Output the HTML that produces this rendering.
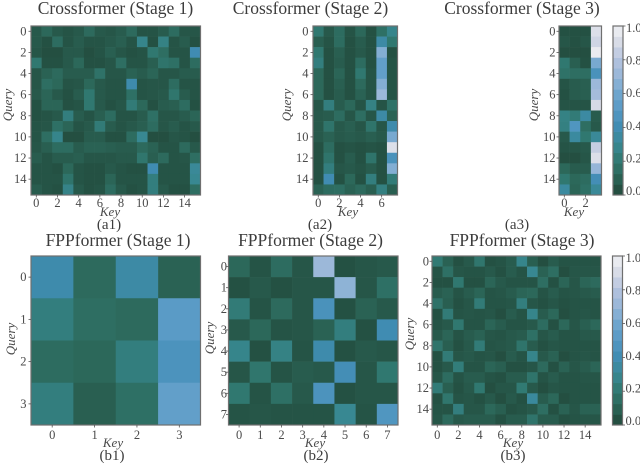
<!DOCTYPE html>
<html lang="en">
<head>
<meta charset="utf-8">
<title>Crossformer and FPPformer attention heatmaps</title>
<style>
html,body{margin:0;padding:0;background:#fff;width:640px;height:466px;overflow:hidden}
svg{display:block;font-family:"Liberation Serif",serif;filter:blur(0.3px)}
</style>
</head>
<body>
<svg id="fig" width="640" height="466" viewBox="0 0 640 466" xmlns="http://www.w3.org/2000/svg"></svg>
<script>
const a1Values = [
[7,12,7,5,7,13,7,6,8,13,5,5,8,14,6,6],
[7,4,14,5,8,5,5,7,9,5,28,4,26,5,8,4],
[6,3,3,7,7,3,5,9,6,4,5,20,15,5,5,40],
[20,4,4,7,12,4,4,6,15,5,5,9,18,16,5,14],
[6,10,13,8,8,8,17,6,6,10,8,11,6,6,8,8],
[6,15,12,5,6,12,7,5,5,38,5,6,6,14,5,5],
[7,11,7,4,8,20,7,5,5,16,5,6,7,19,8,5],
[4,11,11,4,5,20,7,4,6,22,12,4,8,9,14,4],
[4,5,7,24,8,5,9,14,5,5,8,16,6,6,8,11],
[5,6,16,11,5,7,22,8,5,7,9,14,6,8,5,7],
[5,15,28,3,3,8,8,4,4,14,30,3,3,6,5,3],
[6,9,14,14,8,10,10,9,8,8,13,10,5,5,13,7],
[8,5,8,8,9,6,6,6,7,7,19,9,13,5,6,15],
[5,5,4,12,5,4,4,7,5,4,4,40,5,5,5,32],
[5,5,5,18,5,4,4,11,5,5,5,24,5,5,5,30],
[8,5,4,27,7,4,5,14,7,4,5,24,7,4,4,15]];
const a2Values = [
[20,7,14,5,12,4,16,28],
[9,5,14,4,8,4,36,20],
[20,4,9,4,7,4,65,4],
[24,4,8,4,14,4,55,5],
[12,4,11,4,20,5,55,5],
[12,4,9,4,13,5,65,5],
[12,4,8,4,10,5,72,5],
[6,24,8,12,5,26,5,17],
[7,8,14,6,15,6,36,10],
[7,18,7,9,6,18,6,38],
[7,10,7,8,7,9,7,62],
[4,14,4,5,4,5,4,92],
[4,18,4,8,4,18,4,45],
[4,24,6,7,5,8,4,65],
[4,40,4,12,4,24,4,22],
[10,14,15,10,13,9,25,9]];
const a3Values = [
[4,4,4,92],[6,4,6,88],[3,3,3,97],[20,9,4,62],
[17,15,15,45],[5,8,9,72],[4,8,9,75],[5,5,5,90],
[26,22,35,8],[25,48,15,7],[7,34,20,32],[5,6,7,85],
[3,3,6,92],[12,8,8,70],[20,12,14,42],[34,11,16,32]];
const b1Values = [
[38,13,36,10],
[24,15,13,52],
[14,12,24,46],
[24,9,16,55]];
const b2Values = [
[12,5,14,6,72,4,6,7],
[4,7,4,6,6,68,6,16],
[22,5,13,6,45,4,10,7],
[7,12,5,6,10,24,4,40],
[28,4,26,5,38,4,7,6],
[6,19,5,8,7,42,6,20],
[20,5,16,7,46,4,6,6],
[5,6,5,5,5,30,5,48]];
const b3Values = [
[21,10,4,7,19,4,5,8,28,9,3,8,5,5,5,5],
[5,16,6,5,5,7,4,8,5,30,10,15,3,6,6,6],
[4,4,20,4,4,11,7,5,5,5,15,4,11,6,11,13],
[8,10,5,8,11,5,6,8,11,12,5,8,5,6,7,8],
[17,9,4,6,22,5,5,6,24,6,4,6,4,5,5,5],
[4,22,5,6,5,6,3,8,5,28,8,12,3,5,6,5],
[5,7,20,5,5,11,8,5,5,7,14,4,12,6,9,12],
[7,11,5,8,10,6,5,7,8,16,6,8,5,5,7,7],
[18,9,4,7,22,5,6,7,18,8,4,6,5,5,5,5],
[4,22,6,7,5,6,3,8,5,28,7,10,3,5,6,5],
[4,7,23,5,5,11,9,4,4,6,13,4,10,6,8,11],
[6,14,5,8,8,5,4,8,8,18,5,8,5,5,6,6],
[22,9,4,7,20,3,6,6,21,7,3,6,5,5,5,5],
[4,19,5,6,4,7,3,7,4,33,8,12,3,5,5,5],
[5,5,24,6,6,12,9,4,5,7,15,4,10,6,10,10],
[6,13,7,8,8,8,4,8,8,18,8,8,4,5,6,6]];
const colorbarTicks = [0,0.2,0.4,0.6,0.8,1];
const tickLabels16 = [0,2,4,6,8,10,12,14];
const tickLabels8 = [0,1,2,3,4,5,6,7];
const tickLabelsEven8 = [0,2,4,6];
const tickLabelsEven4 = [0,2];
const tickLabels4 = [0,1,2,3];

const svg = document.getElementById('fig');
const NS = 'http://www.w3.org/2000/svg';
const INK = '#4a4a4a';
const rampStops = [
  [0,33,72,58],[0.06,38,86,72],[0.12,44,104,90],[0.2,48,120,112],[0.3,56,136,146],
  [0.4,64,140,178],[0.5,84,152,196],[0.6,112,166,206],[0.7,150,182,216],
  [0.8,180,194,222],[0.9,214,218,230],[1,242,242,244]];
function colorOf(v){
  const t = Math.max(0,Math.min(1,v));
  for(let i=1;i<rampStops.length;i++){
    const p = rampStops[i-1], q = rampStops[i];
    if(t<=q[0]){
      const f = (t-p[0])/(q[0]-p[0]);
      return 'rgb('+[1,2,3].map(k=>Math.round(p[k]+(q[k]-p[k])*f)).join(',')+')';
    }
  }
  return 'rgb(242,242,244)';
}
function mk(tag, attrs, parent, txt){
  const el = document.createElementNS(NS, tag);
  for(const k in attrs){ el.setAttribute(k, attrs[k]); }
  if(txt !== undefined){ el.textContent = txt; }
  (parent || svg).appendChild(el);
  return el;
}
function label(parent, name, txt, attrs){
  const el = mk('text', attrs, parent, txt);
  
  
  return el;
}
function heatmap(id, cfg){
  const g = mk('g', {});
  
  
  const data = cfg.values;
  const rows = data.length, cols = data[0].length;
  const xs = i => cfg.x + i*cfg.w/cols;
  const ys = j => cfg.y + j*cfg.h/rows;
  data.forEach((row,j)=>row.forEach((val,i)=>{
    const cell = mk('rect', {x:xs(i), y:ys(j), width:cfg.w/cols+0.3, height:cfg.h/rows+0.3, fill:colorOf(val/100)}, g);
    
    
  }));
  const frame = mk('rect', {x:cfg.x, y:cfg.y, width:cfg.w, height:cfg.h, fill:'none', stroke:'#6f6f6f', 'stroke-width':1.2}, g);
  
  
  cfg.xticks.forEach(t=>{
    const px = xs(t+0.5);
    mk('line', {x1:px, x2:px, y1:cfg.y+cfg.h, y2:cfg.y+cfg.h+2.5, stroke:'#555', 'stroke-width':0.8}, g);
    label(g, 'x-tick-label', String(t), {x:px, y:cfg.y+cfg.h+cfg.xtOff, 'text-anchor':'middle', 'font-size':12.5, fill:INK});
  });
  cfg.yticks.forEach(t=>{
    const py = ys(t+0.5);
    mk('line', {x1:cfg.x-2.5, x2:cfg.x, y1:py, y2:py, stroke:'#555', 'stroke-width':0.8}, g);
    label(g, 'y-tick-label', String(t), {x:cfg.x-cfg.ytOff, y:py+4, 'text-anchor':'end', 'font-size':12.5, fill:INK});
  });
  label(g, 'chart-title', cfg.title, {x:cfg.tx, y:cfg.ty, 'text-anchor':'middle', 'font-size':17.5, fill:'#3c3c3c'});
  label(g, 'x-axis-title', 'Key', {x:cfg.kx, y:cfg.ky, 'text-anchor':'middle', 'font-size':13, 'font-style':'italic', fill:INK});
  label(g, 'y-axis-title', 'Query', {x:0, y:0, transform:'translate('+cfg.qx+','+cfg.qy+') rotate(-90)', 'text-anchor':'middle', 'font-size':13, 'font-style':'italic', fill:INK});
  label(g, 'panel-caption', cfg.cap, {x:cfg.cx, y:cfg.cy, 'text-anchor':'middle', 'font-size':15, fill:'#3c3c3c'});
}
function colorbar(id, x, y, w, h){
  const g = mk('g', {});
  
  
  const ys = v => y + h*(1-v);
  const steps = 16;
  for(let i=0;i<steps;i++){
    mk('rect', {x:x, y:ys((i+1)/steps), width:w, height:h/steps+0.3, fill:colorOf((i+0.5)/steps)}, g);
  }
  mk('rect', {x:x, y:y, width:w, height:h, fill:'none', stroke:'#6f6f6f', 'stroke-width':1.2}, g);
  colorbarTicks.forEach(t=>{
    mk('line', {x1:x+w, x2:x+w+2.5, y1:ys(t), y2:ys(t), stroke:'#555', 'stroke-width':0.8}, g);
    label(g, 'colorbar-tick-label', t.toFixed(1), {x:x+w+3, y:ys(t)+6*t, 'font-size':12.5, fill:INK});
  });
}
heatmap('crossformer-stage-1', {values:a1Values, x:31, y:26, w:169.5, h:169, xticks:tickLabels16, yticks:tickLabels16, xtOff:12, ytOff:4.5,
  title:'Crossformer (Stage 1)', tx:115.5, ty:14, kx:110, ky:216, qx:12, qy:105, cap:'(a1)', cx:109, cy:229});
heatmap('crossformer-stage-2', {values:a2Values, x:313, y:26, w:84.5, h:169, xticks:tickLabelsEven8, yticks:tickLabels16, xtOff:12, ytOff:4.5,
  title:'Crossformer (Stage 2)', tx:310.5, ty:14, kx:348, ky:216, qx:291, qy:105, cap:'(a2)', cx:320, cy:229});
heatmap('crossformer-stage-3', {values:a3Values, x:559, y:26, w:42.5, h:169, xticks:tickLabelsEven4, yticks:tickLabels16, xtOff:12, ytOff:3.5,
  title:'Crossformer (Stage 3)', tx:522, ty:14, kx:574, ky:216, qx:538, qy:105, cap:'(a3)', cx:517, cy:229});
heatmap('fppformer-stage-1', {values:b1Values, x:31, y:256, w:169.5, h:169, xticks:tickLabels4, yticks:tickLabels4, xtOff:14, ytOff:4.5,
  title:'FPPformer (Stage 1)', tx:118, ty:246, kx:113, ky:447, qx:15, qy:339, cap:'(b1)', cx:112, cy:460});
heatmap('fppformer-stage-2', {values:b2Values, x:228.5, y:256, w:169.5, h:169, xticks:tickLabels8, yticks:tickLabels8, xtOff:14, ytOff:1.5,
  title:'FPPformer (Stage 2)', tx:310.5, ty:246, kx:315, ky:447, qx:214, qy:338, cap:'(b2)', cx:316, cy:460});
heatmap('fppformer-stage-3', {values:b3Values, x:432, y:256, w:169, h:169, xticks:tickLabels16, yticks:tickLabels16, xtOff:14, ytOff:3,
  title:'FPPformer (Stage 3)', tx:522, ty:246, kx:513, ky:447, qx:414, qy:334, cap:'(b3)', cx:513, cy:460});
colorbar('colorbar-top', 613, 26, 10, 169);
colorbar('colorbar-bottom', 612.5, 256, 10, 169);
</script>
</body>
</html>
